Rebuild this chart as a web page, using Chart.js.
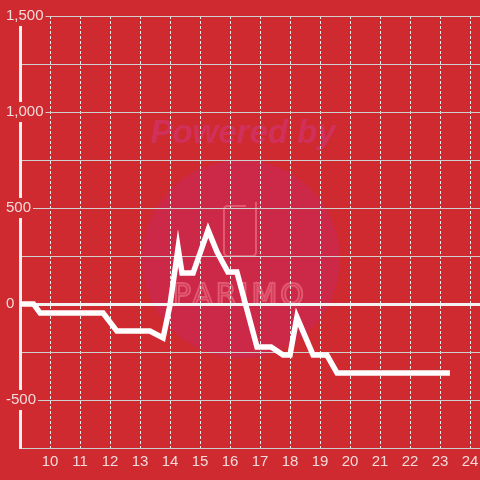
<!DOCTYPE html>
<html>
<head>
<meta charset="utf-8">
<script src="https://cdn.jsdelivr.net/npm/chart.js@4/dist/chart.umd.min.js"></script>
<style>
  body { margin: 0; background: #ce2a2f; }
  #wrap { width: 480px; height: 480px; }
</style>
</head>
<body>
<div id="wrap"><canvas id="chart" width="480" height="480"></canvas></div>
<script>
// hours of the day (decimal) and the value at each point
const times = [9.0, 9.45, 9.67, 11.77, 12.23, 13.33, 13.77, 14.0, 14.27, 14.4, 14.77, 15.27, 15.57, 15.93, 16.23, 16.9, 17.37, 17.77, 18.0, 18.23, 18.77, 19.23, 19.57, 23.33];
const values = [0, 0, -47, -47, -141, -141, -177, -5, 292, 161, 161, 385, 271, 167, 167, -224, -224, -266, -266, -68, -266, -266, -360, -360];
const yTickLabels = [-500, 0, 500, 1000, 1500];
const xTickLabels = [10, 11, 12, 13, 14, 15, 16, 17, 18, 19, 20, 21, 22, 23, 24];

const BG = "#ce2a2f";
const TEXT = "#f3dada";

const watermark = {
  id: "watermark",
  beforeDraw(chart) {
    const ctx = chart.ctx;
    ctx.save();
    ctx.fillStyle = BG;
    ctx.fillRect(0, 0, chart.width, chart.height);

    ctx.fillStyle = "#cc2848";
    ctx.beginPath();
    ctx.arc(241, 259, 99, 0, Math.PI * 2);
    ctx.fill();

    ctx.fillStyle = "#d1305a";
    ctx.font = "italic bold 33px 'Liberation Sans'";
    ctx.textAlign = "center";
    ctx.textBaseline = "alphabetic";
    ctx.fillText("Powered by", 243, 143);

    // phone outline
    ctx.strokeStyle = "rgba(240,120,140,0.6)";
    ctx.lineWidth = 2;
    ctx.beginPath();
    ctx.moveTo(246, 206);
    ctx.lineTo(228, 206);
    ctx.quadraticCurveTo(224, 206, 224, 210);
    ctx.lineTo(224, 252);
    ctx.quadraticCurveTo(224, 256, 228, 256);
    ctx.lineTo(252, 256);
    ctx.quadraticCurveTo(256, 256, 256, 252);
    ctx.lineTo(256, 202);
    ctx.stroke();

    ctx.lineWidth = 2;
    ctx.font = "30px 'DejaVu Sans'";
    ctx.letterSpacing = "3px";
    ctx.strokeText("PARIMO", 240, 305);
    ctx.restore();
  },
};

new Chart(document.getElementById("chart"), {
  type: "line",
  data: {
    datasets: [
      {
        data: times.map((t, i) => ({ x: t, y: values[i] })),
        borderColor: "#ffffff",
        borderWidth: 5.5,
        pointRadius: 0,
        tension: 0,
        fill: false,
      },
    ],
  },
  options: {
    responsive: false,
    animation: false,
    layout: { padding: { top: 16, right: 0, bottom: 0, left: 0 } },
    plugins: { legend: { display: false }, tooltip: { enabled: false } },
    scales: {
      x: {
        type: "linear",
        min: 9,
        max: 24 + 1 / 3,
        afterFit: (scale) => {
          scale.height = 32;
          scale.paddingLeft = 0;
          scale.paddingRight = 0;
        },
        grid: { color: "#ececec", lineWidth: 1, drawTicks: false },
        border: { color: "#cccccc", width: 1, dash: [3, 2] },
        ticks: {
          stepSize: 1,
          includeBounds: false,
          padding: 5,
          color: TEXT,
          font: { family: "'Liberation Sans'", size: 15 },
          callback: (v) => (xTickLabels.includes(v) ? String(v) : ""),
        },
      },
      y: {
        min: -750,
        max: 1500,
        afterFit: (scale) => {
          scale.width = 20;
          scale.paddingTop = 0;
          scale.paddingBottom = 0;
        },
        grid: {
          drawTicks: false,
          color: (ctx) => (ctx.tick.value === 0 ? "#f2f2f2" : "#cfcfcf"),
          lineWidth: (ctx) => (ctx.tick.value === 0 ? 3 : 1),
        },
        border: { color: "#f0f0f0", width: 3 },
        ticks: {
          stepSize: 250,
          mirror: true,
          padding: -14,
          crossAlign: "near",
          color: TEXT,
          font: { family: "'Liberation Sans'", size: 15 },
          showLabelBackdrop: (ctx) => yTickLabels.includes(ctx.tick.value),
          backdropColor: BG,
          backdropPadding: { top: 1, bottom: 1, left: 2, right: 2 },
          callback: (v) => (yTickLabels.includes(v) ? v.toLocaleString("en-US") : ""),
        },
      },
    },
  },
  plugins: [watermark],
});
</script>
</body>
</html>
